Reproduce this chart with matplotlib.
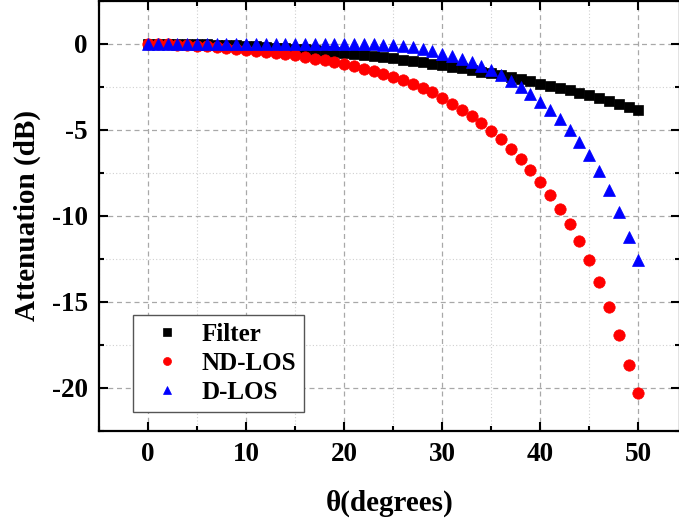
"""
Attenuation versus incidence angle for the filter and the two LOS cases.
"""

import matplotlib

matplotlib.use("Agg")
import matplotlib.pyplot as plt
from matplotlib.ticker import MultipleLocator

theta = list(range(0, 51))

filter_db = [
    0.00, -0.00, -0.01, -0.01, -0.02, -0.03, -0.05, -0.07, -0.09, -0.11,
    -0.13, -0.16, -0.19, -0.23, -0.26, -0.30, -0.34, -0.39, -0.44, -0.49,
    -0.54, -0.60, -0.66, -0.72, -0.79, -0.86, -0.93, -1.00, -1.08, -1.16,
    -1.25, -1.34, -1.43, -1.53, -1.63, -1.73, -1.84, -1.95, -2.07, -2.19,
    -2.32, -2.44, -2.58, -2.72, -2.86, -3.01, -3.17, -3.32, -3.49, -3.66,
    -3.84,
]

nd_los_db = [
    0.00, -0.01, -0.04, -0.07, -0.10, -0.13, -0.16, -0.20, -0.24, -0.29,
    -0.35, -0.41, -0.48, -0.54, -0.61, -0.69, -0.78, -0.87, -0.97, -1.08,
    -1.19, -1.32, -1.45, -1.60, -1.76, -1.93, -2.12, -2.33, -2.56, -2.83,
    -3.15, -3.49, -3.85, -4.22, -4.64, -5.08, -5.57, -6.10, -6.68, -7.32,
    -8.02, -8.78, -9.60, -10.50, -11.49, -12.58, -13.82, -15.28, -16.92, -18.65,
    -20.30,
]

d_los_db = [
    0.00, 0.00, 0.00, 0.00, 0.00, 0.00, 0.00, 0.00, 0.00, 0.00,
    0.00, 0.00, 0.00, 0.00, 0.00, 0.00, -0.01, -0.01, -0.01, -0.02,
    -0.02, -0.03, -0.04, -0.05, -0.07, -0.10, -0.14, -0.22, -0.32, -0.44,
    -0.58, -0.73, -0.89, -1.07, -1.28, -1.52, -1.82, -2.15, -2.53, -2.94,
    -3.38, -3.86, -4.40, -5.02, -5.72, -6.50, -7.40, -8.52, -9.81, -11.21,
    -12.55,
]

series = [
    ("Filter", filter_db, "s", "black", 7.3),
    ("ND-LOS", nd_los_db, "o", "red", 8.2),
    ("D-LOS", d_los_db, "^", "blue", 8.8),
]

plt.rcParams["font.family"] = ["Liberation Serif", "DejaVu Serif"]
plt.rcParams["font.weight"] = "bold"
plt.rcParams["axes.unicode_minus"] = False

fig = plt.figure(figsize=(6.79, 5.25), dpi=100)
ax = fig.add_axes([99 / 679, 94 / 525, 580.5 / 679, 430.5 / 525])

for label, values, marker, color, size in series:
    ax.plot(theta, values, linestyle="none", marker=marker, color=color,
            markersize=size, markeredgewidth=0.5, label=label, zorder=3)

ax.set_xlim(-5, 54.2)
ax.set_ylim(-22.5, 2.5)
ax.xaxis.set_major_locator(MultipleLocator(10))
ax.xaxis.set_minor_locator(MultipleLocator(5))
ax.yaxis.set_major_locator(MultipleLocator(5))
ax.yaxis.set_minor_locator(MultipleLocator(2.5))

ax.grid(which="major", color="#a8a8a8", linestyle=(0, (4, 3)), linewidth=0.9)
ax.grid(which="minor", color="#d0d0d0", linestyle=(0, (1, 2)), linewidth=0.8)
ax.set_axisbelow(True)

ax.tick_params(which="both", direction="in", top=True, right=True,
               width=1.5, labelsize=19.5)
ax.tick_params(which="major", length=6.5, pad=8)
ax.tick_params(which="minor", length=3.5)
for spine in ax.spines.values():
    spine.set_linewidth(1.6)

ax.set_xlabel("θ(degrees)", fontsize=21, fontweight="bold", labelpad=16)
ax.set_ylabel("Attenuation (dB)", fontsize=21, fontweight="bold", labelpad=8)

leg = ax.legend(loc="lower left", bbox_to_anchor=(0.059, 0.045), borderaxespad=0,
                fancybox=False, framealpha=1, edgecolor="#555555",
                prop={"size": 18, "weight": "bold"}, markerscale=0.7,
                handlelength=2.1, handletextpad=0.35, labelspacing=0.25,
                borderpad=0.3)
leg.get_frame().set_linewidth(1.0)

fig.savefig("out.png", dpi=100)
